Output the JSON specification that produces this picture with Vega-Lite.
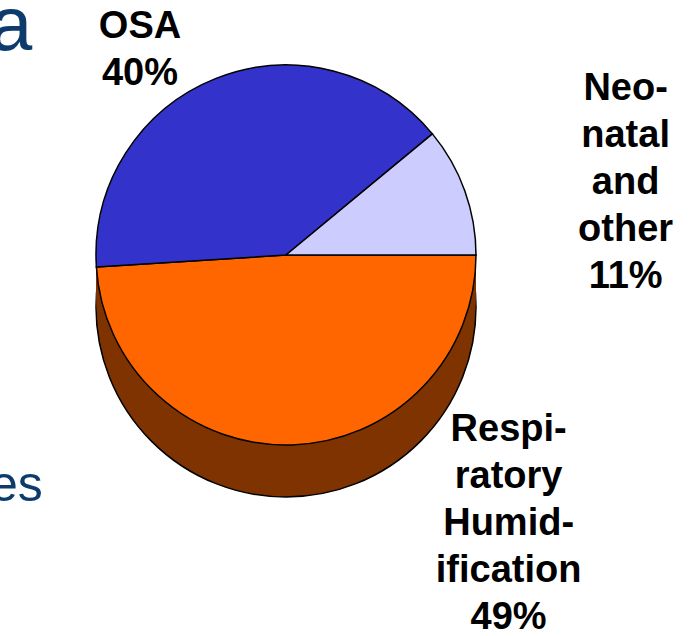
{
  "$schema": "https://vega.github.io/schema/vega-lite/v6.json",
  "width": 572,
  "height": 510,
  "autosize": {"type": "none"},
  "padding": {"left": 0, "top": 0, "right": 118, "bottom": 126},
  "background": "white",
  "config": {"view": {"stroke": null}},
  "title": {
    "text": "a",
    "subtitle": "es",
    "anchor": "start",
    "frame": "group",
    "orient": "top",
    "offset": -610,
    "dx": -10,
    "font": "Liberation Sans",
    "fontSize": 76,
    "fontWeight": "normal",
    "color": "#0C3B6C",
    "subtitleFont": "Liberation Sans",
    "subtitleFontSize": 50,
    "subtitleColor": "#0C3B6C",
    "subtitlePadding": 395
  },
  "data": {
    "values": [
      {"segment": "Respiratory Humidification", "pct": 49, "label": "Respi-\nratory\nHumid-\nification\n49%"},
      {"segment": "OSA", "pct": 40, "label": "OSA\n40%"},
      {"segment": "Neonatal and other", "pct": 11, "label": "Neo-\nnatal\nand\nother\n11%"}
    ]
  },
  "layer": [
    {
      "transform": [{"aggregate": [{"op": "sum", "field": "pct", "as": "pct"}]}],
      "mark": {"type": "arc", "outerRadius": 190, "yOffset": 52, "color": "#7F3300", "stroke": "black", "strokeWidth": 1.5},
      "encoding": {
        "theta": {"field": "pct", "type": "quantitative", "stack": true, "scale": {"range": [1.5707963, 7.8539816]}}
      }
    },
    {
      "transform": [{"aggregate": [{"op": "sum", "field": "pct", "as": "pct"}]}],
      "mark": {"type": "arc", "outerRadius": 190, "yOffset": 39, "color": "#7F3300"},
      "encoding": {
        "theta": {"field": "pct", "type": "quantitative", "stack": true, "scale": {"range": [1.5707963, 7.8539816]}}
      }
    },
    {
      "transform": [{"aggregate": [{"op": "sum", "field": "pct", "as": "pct"}]}],
      "mark": {"type": "arc", "outerRadius": 190, "yOffset": 26, "color": "#7F3300"},
      "encoding": {
        "theta": {"field": "pct", "type": "quantitative", "stack": true, "scale": {"range": [1.5707963, 7.8539816]}}
      }
    },
    {
      "transform": [{"aggregate": [{"op": "sum", "field": "pct", "as": "pct"}]}],
      "mark": {"type": "arc", "outerRadius": 190, "yOffset": 13, "color": "#7F3300"},
      "encoding": {
        "theta": {"field": "pct", "type": "quantitative", "stack": true, "scale": {"range": [1.5707963, 7.8539816]}}
      }
    },
    {
      "mark": {"type": "arc", "outerRadius": 190, "stroke": "black", "strokeWidth": 1.5},
      "encoding": {
        "theta": {"field": "pct", "type": "quantitative", "stack": true, "scale": {"range": [1.5707963, 7.8539816]}},
        "order": {"field": "pct", "sort": "descending"},
        "color": {
          "field": "segment",
          "type": "nominal",
          "scale": {"domain": ["Respiratory Humidification", "OSA", "Neonatal and other"], "range": ["#FF6600", "#3333CC", "#CCCCFF"]},
          "legend": null
        }
      }
    },
    {
      "mark": {"type": "text", "radius": 271, "thetaOffset": -0.192, "font": "Liberation Sans", "fontWeight": "bold", "fontSize": 38, "lineHeight": 47, "lineBreak": "\n", "align": "center", "baseline": "middle", "color": "black"},
      "encoding": {
        "theta": {"field": "pct", "type": "quantitative", "stack": true, "scale": {"range": [1.5707963, 7.8539816]}},
        "order": {"field": "pct", "sort": "descending"},
        "text": {"condition": {"test": "datum.segment === 'OSA'", "field": "label"}, "value": ""}
      }
    },
    {
      "mark": {"type": "text", "radius": 378, "thetaOffset": -0.109, "font": "Liberation Sans", "fontWeight": "bold", "fontSize": 38, "lineHeight": 47, "lineBreak": "\n", "align": "center", "baseline": "middle", "color": "black"},
      "encoding": {
        "theta": {"field": "pct", "type": "quantitative", "stack": true, "scale": {"range": [1.5707963, 7.8539816]}},
        "order": {"field": "pct", "sort": "descending"},
        "text": {"condition": {"test": "datum.segment === 'Neonatal and other'", "field": "label"}, "value": ""}
      }
    },
    {
      "mark": {"type": "text", "radius": 283, "thetaOffset": -0.874, "font": "Liberation Sans", "fontWeight": "bold", "fontSize": 38, "lineHeight": 47, "lineBreak": "\n", "align": "center", "baseline": "middle", "color": "black"},
      "encoding": {
        "theta": {"field": "pct", "type": "quantitative", "stack": true, "scale": {"range": [1.5707963, 7.8539816]}},
        "order": {"field": "pct", "sort": "descending"},
        "text": {"condition": {"test": "datum.segment === 'Respiratory Humidification'", "field": "label"}, "value": ""}
      }
    }
  ]
}
